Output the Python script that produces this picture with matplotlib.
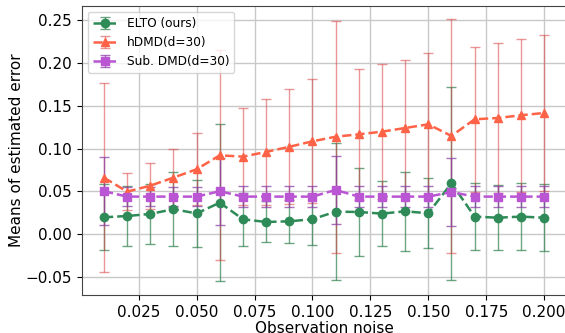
import numpy as np
import matplotlib
matplotlib.use('Agg')
import matplotlib.pyplot as plt

noise = [0.01, 0.02, 0.03, 0.04, 0.05, 0.06, 0.07, 0.08, 0.09, 0.10,
         0.11, 0.12, 0.13, 0.14, 0.15, 0.16, 0.17, 0.18, 0.19, 0.20]

elto_mean = [0.0195, 0.021, 0.0234, 0.029, 0.024, 0.0366, 0.0172, 0.014, 0.0148, 0.0172,
             0.0261, 0.0257, 0.0238, 0.0265, 0.0242, 0.0593, 0.0203, 0.019, 0.0203, 0.019]
elto_std = [0.0385, 0.035, 0.035, 0.043, 0.039, 0.092, 0.031, 0.024, 0.025, 0.030,
            0.080, 0.052, 0.038, 0.046, 0.041, 0.113, 0.039, 0.038, 0.039, 0.039]

hdmd_mean = [0.0659, 0.0495, 0.0565, 0.0659, 0.0757, 0.092, 0.0905, 0.096, 0.102, 0.1084,
             0.1138, 0.1166, 0.1197, 0.124, 0.1283, 0.1147, 0.1342, 0.1357, 0.1389, 0.1416]
hdmd_std = [0.111, 0.022, 0.027, 0.034, 0.042, 0.123, 0.057, 0.062, 0.0675, 0.0726,
            0.136, 0.077, 0.079, 0.080, 0.083, 0.137, 0.085, 0.088, 0.0896, 0.0915]

sub_mean = [0.050, 0.0437, 0.0437, 0.0437, 0.0437, 0.050, 0.0437, 0.0437, 0.0437, 0.0437,
            0.0515, 0.0437, 0.0437, 0.0437, 0.0437, 0.049, 0.0437, 0.0437, 0.0437, 0.0437]
sub_std = [0.040, 0.0115, 0.0115, 0.0115, 0.0115, 0.039, 0.012, 0.012, 0.012, 0.0125,
           0.040, 0.012, 0.012, 0.012, 0.012, 0.040, 0.012, 0.012, 0.012, 0.012]

fig = plt.figure(figsize=(5.65, 3.33), dpi=100)
ax = fig.add_axes([0.145, 0.114, 0.857, 0.868])

ax.errorbar(noise, elto_mean, yerr=elto_std, fmt='o--', color='#2e8b57',
            ecolor=(0.18, 0.50, 0.30, 0.7), elinewidth=1, capsize=3.5,
            markersize=6, linewidth=1.8, label='ELTO (ours)')
ax.errorbar(noise, hdmd_mean, yerr=hdmd_std, fmt='^--', color='#ff6347',
            ecolor=(0.85, 0.25, 0.25, 0.55), elinewidth=1, capsize=3.5,
            markersize=6, linewidth=1.8, label='hDMD(d=30)')
ax.errorbar(noise, sub_mean, yerr=sub_std, fmt='s--', color='#ba55d3',
            ecolor=(0.55, 0.25, 0.65, 0.75), elinewidth=1, capsize=3.5,
            markersize=6, linewidth=1.8, label='Sub. DMD(d=30)')

ax.set_xlim(0.0005, 0.2095)
ax.set_ylim(-0.0715, 0.2668)
ax.set_xticks([0.025, 0.05, 0.075, 0.1, 0.125, 0.15, 0.175, 0.2])
ax.set_yticks([-0.05, 0.0, 0.05, 0.1, 0.15, 0.2, 0.25])
ax.tick_params(labelsize=11)
ax.grid(True, color='#c8c8c8', linewidth=1)
ax.set_axisbelow(True)
for s in ax.spines.values():
    s.set_color('#444444')

ax.set_xlabel('Observation noise', fontsize=11, labelpad=1)
ax.set_ylabel('Means of estimated error', fontsize=11, labelpad=1)
ax.legend(loc='upper left', fontsize=8.7, framealpha=0.8)

fig.savefig('out.png', dpi=100)
